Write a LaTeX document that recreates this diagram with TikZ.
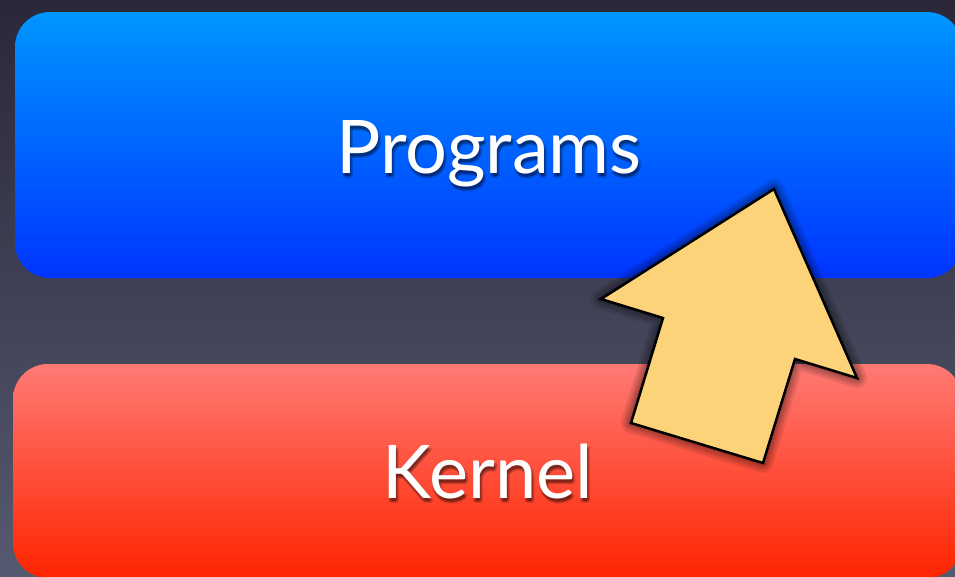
\documentclass[tikz,border=0pt]{standalone}
\usepackage{fontspec}
\setmainfont{Lato}
\begin{document}
\begin{tikzpicture}[x=1pt,y=-1pt,
  layerbox/.style={rounded corners=35pt, inner sep=0pt, draw=none},
  labeltext/.style={text=white, anchor=base, inner sep=0pt,
    font=\fontsize{74}{88}\selectfont},
  labelshadow/.style={text=black, anchor=base, inner sep=0pt, opacity=0.16,
    font=\fontsize{74}{88}\selectfont},
  arrowfill/.style={fill={rgb,255:red,253;green,211;blue,122}, draw=black,
    line width=2.5pt, line join=miter}
]
\useasboundingbox (0,0) rectangle (955,576);
% backdrop
\shade[top color={rgb,255:red,42;green,39;blue,57},
       bottom color={rgb,255:red,86;green,90;blue,112}]
  (0,0) rectangle (955,576);

% the two layers
\node[layerbox, minimum width=947pt, minimum height=266pt,
      top color={rgb,255:red,0;green,150;blue,255},
      bottom color={rgb,255:red,0;green,52;blue,255}]
  (programs) at (488.5,145) {};
\node[layerbox, minimum width=949pt, minimum height=214pt,
      top color={rgb,255:red,255;green,122;blue,116},
      bottom color={rgb,255:red,255;green,36;blue,0}]
  (kernel) at (487.5,471) {};

% labels with a soft drop shadow
\foreach \dx/\dy in {1/3,2/5,0/4,3/3} {
  \node[labelshadow] at (489+\dx,173+\dy) {Programs};
  \node[labelshadow] at (488+\dx,498+\dy) {Kernel};
}
\node[labeltext] (programslabel) at (489,173) {Programs};
\node[labeltext] (kernellabel) at (488,498) {Kernel};

% block arrow from the kernel up to the programs
\coordinate (tip) at (774,189);
\coordinate (rwing) at (857,378);
\coordinate (rnotch) at (795,359);
\coordinate (rbase) at (763,463);
\coordinate (lbase) at (631,423);
\coordinate (lnotch) at (663,318);
\coordinate (lwing) at (601,299);
% soft shadow under the arrow
\foreach \w in {20,15,11,7,4,2} {
  \fill[black, opacity=0.09, draw=black, line width=\w pt, line join=round,
        shift={(8pt,-8pt)}]
    (tip) -- (rwing) -- (rnotch) -- (rbase) -- (lbase) -- (lnotch) -- (lwing) -- cycle;
}
\path[arrowfill]
  (tip) -- (rwing) -- (rnotch) -- (rbase) -- (lbase) -- (lnotch) -- (lwing) -- cycle;
\end{tikzpicture}
\end{document}
